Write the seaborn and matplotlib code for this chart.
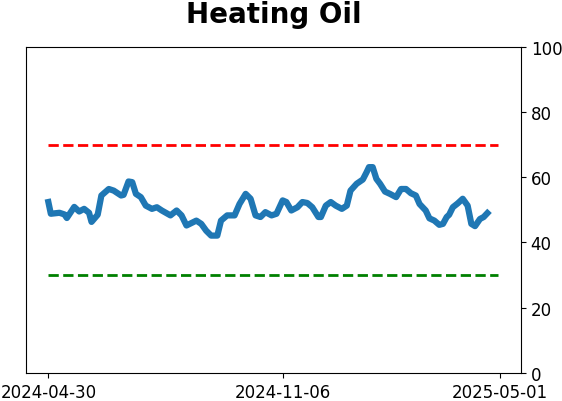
import pandas as pd
import matplotlib
matplotlib.use("Agg")
import matplotlib.pyplot as plt
import matplotlib.dates as mdates
import seaborn as sns

# Values
dates = [
    "2024-04-30", "2024-05-02", "2024-05-09", "2024-05-13", "2024-05-15", "2024-05-21",
    "2024-05-25", "2024-05-29", "2024-06-02", "2024-06-04", "2024-06-09", "2024-06-12",
    "2024-06-18", "2024-06-22", "2024-06-28", "2024-06-30", "2024-07-04", "2024-07-07",
    "2024-07-10", "2024-07-14", "2024-07-18", "2024-07-23", "2024-07-27", "2024-07-31",
    "2024-08-07", "2024-08-12", "2024-08-16", "2024-08-20", "2024-08-28", "2024-09-01",
    "2024-09-05", "2024-09-09", "2024-09-14", "2024-09-17", "2024-09-22", "2024-09-28",
    "2024-10-02", "2024-10-07", "2024-10-11", "2024-10-15", "2024-10-19", "2024-10-23",
    "2024-10-28", "2024-11-01", "2024-11-06", "2024-11-09", "2024-11-13", "2024-11-18",
    "2024-11-22", "2024-11-26", "2024-11-30", "2024-12-05", "2024-12-07", "2024-12-11",
    "2024-12-15", "2024-12-19", "2024-12-24", "2024-12-28", "2024-12-31", "2025-01-05",
    "2025-01-10", "2025-01-13", "2025-01-15", "2025-01-18", "2025-01-21", "2025-01-24",
    "2025-01-28", "2025-02-01", "2025-02-06", "2025-02-10", "2025-02-14", "2025-02-18",
    "2025-02-22", "2025-02-25", "2025-03-02", "2025-03-05", "2025-03-09", "2025-03-13",
    "2025-03-16", "2025-03-19", "2025-03-21", "2025-03-24", "2025-03-28", "2025-04-01",
    "2025-04-05", "2025-04-08", "2025-04-11", "2025-04-15", "2025-04-18", "2025-04-21",
]
values = [
    52.4, 48.8, 49.1, 48.6, 47.5, 50.9,
    49.5, 50.3, 49.1, 46.3, 48.5, 54.4,
    56.4, 55.9, 54.4, 54.6, 58.7, 58.5,
    54.9, 53.9, 51.3, 50.3, 50.8, 49.8,
    48.3, 49.8, 48.3, 45.2, 46.7, 45.7,
    43.6, 42.1, 42.1, 46.7, 48.3, 48.3,
    51.8, 54.9, 53.4, 48.3, 47.8, 49.3,
    48.3, 48.8, 52.9, 52.4, 49.8, 50.8,
    52.4, 52.1, 50.8, 47.8, 47.8, 51.3,
    52.4, 51.3, 50.3, 51.3, 55.9, 58.0,
    59.3, 61.5, 63.1, 63.1, 59.5, 58.0,
    55.6, 54.9, 53.9, 56.4, 56.4, 55.1,
    54.4, 51.8, 49.8, 47.4, 46.7, 45.4,
    45.7, 47.8, 48.5, 50.8, 52.0, 53.4,
    51.3, 45.7, 45.0, 47.2, 47.8, 49.0,
]
tick_dates = ["2024-04-30", "2024-11-06", "2025-05-01"]
upper_level = 70
lower_level = 30

df = pd.DataFrame({"date": pd.to_datetime(dates), "value": values})

fig, ax = plt.subplots(figsize=(5.62, 4.02), dpi=100)
fig.subplots_adjust(left=0.046, right=0.927, top=0.881, bottom=0.070)

sns.lineplot(data=df, x="date", y="value", color="#1f77b4", linewidth=4.5, ax=ax)

line_start = pd.Timestamp(dates[0])
line_end = pd.Timestamp("2025-04-30")
ax.hlines(upper_level, line_start, line_end, colors="red", linestyles="--", linewidth=2)
ax.hlines(lower_level, line_start, line_end, colors="green", linestyles="--", linewidth=2)

ax.set_ylim(0, 100)
ax.yaxis.tick_right()
ax.set_xticks(pd.to_datetime(tick_dates))
ax.xaxis.set_major_formatter(mdates.DateFormatter("%Y-%m-%d"))
ax.tick_params(labelsize=12)
ax.set_xlabel("")
ax.set_ylabel("")
ax.set_title("Heating Oil", fontsize=20, fontweight="bold", pad=18)

plt.savefig("out.png", dpi=100)
